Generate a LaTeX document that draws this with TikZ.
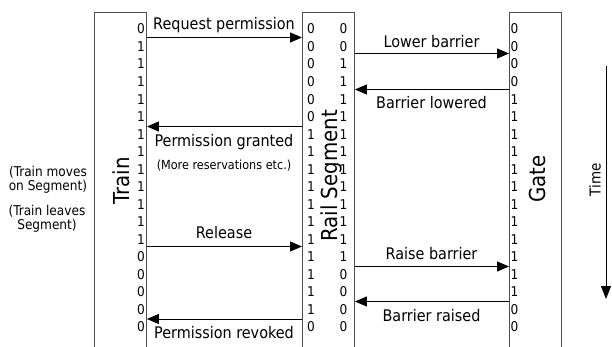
\documentclass[tikz,border=0pt]{standalone}
\usepackage{fontspec}
\setmainfont{DejaVu Sans Condensed}
\usetikzlibrary{arrows.meta}
\tikzset{
  lane/.style={draw=black!70, line width=0.9pt, minimum width=52pt, minimum height=360pt, anchor=north west, inner sep=0pt},
  digit/.style={font=\fontsize{13.5}{14}\selectfont, inner sep=0pt},
  msg/.style={font=\fontsize{16}{17}\selectfont, inner sep=0pt},
  note/.style={font=\fontsize{12.5}{14}\selectfont, inner sep=0pt, align=center},
  side/.style={font=\fontsize{13.5}{14}\selectfont, inner sep=0pt, align=center},
  title/.style={font=\fontsize{22}{24}\selectfont, inner sep=0pt, rotate=90},
  arr/.style={draw=black, line width=0.9pt, -{Triangle[length=12pt,width=10pt]}},
}
\begin{document}
\begin{tikzpicture}[x=1pt,y=-1pt]
\useasboundingbox[fill=white] (0,0) rectangle (612,347);
% lanes
\node[lane] (train) at (94,12) {};
\node[lane] (rail) at (302,12) {};
\node[lane] (gate) at (509,12) {};
% digit columns
\foreach \v [count=\i] in {0,1,1,1,1,1,1,1,1,1,1,1,1,0,0,0,0,0}
  \node[digit, anchor=east] (t\i) at (145, {29+17.53*(\i-1)}) {\v};
\foreach \v [count=\i] in {0,0,0,0,0,0,1,1,1,1,1,1,1,1,1,1,1,0}
  \node[digit] (ra\i) at (311, {29+17.53*(\i-1)}) {\v};
\foreach \v [count=\i] in {0,0,1,1,1,1,1,1,1,1,1,1,1,1,0,0,0,0}
  \node[digit] (rb\i) at (343.5, {29+17.53*(\i-1)}) {\v};
\foreach \v [count=\i] in {0,0,0,0,1,1,1,1,1,1,1,1,1,1,1,1,0,0}
  \node[digit, anchor=west] (g\i) at (510.5, {29+17.53*(\i-1)}) {\v};
% titles
\node[title] (trainlbl) at (121,181) {Train};
\node[title] (raillbl) at (331,176) {Rail Segment};
\node[title] (gatelbl) at (537,179) {Gate};
\node[font=\fontsize{15}{17}\selectfont, inner sep=0pt, rotate=90] (timelbl) at (595,180) {Time};
% arrow y positions
\coordinate (y1) at (0,37.5);
\coordinate (y2) at (0,53.5);
\coordinate (y3) at (0,89.5);
\coordinate (y4) at (0,126.5);
\coordinate (y5) at (0,246.5);
\coordinate (y6) at (0,266.5);
\coordinate (y7) at (0,301.5);
\coordinate (y8) at (0,319);
% messages
\draw[arr] (train.east |- y1) -- (rail.west |- y1);
\node[msg] (m1) at (224,25) {Request permission};
\draw[arr] (rail.east |- y2) -- (gate.west |- y2);
\node[msg] (m2) at (431.5,42) {Lower barrier};
\draw[arr] (gate.west |- y3) -- (rail.east |- y3);
\node[msg] (m3) at (431.5,103) {Barrier lowered};
\draw[arr] (rail.west |- y4) -- (train.east |- y4);
\node[msg] (m4) at (224,142) {Permission granted};
\node[note] (m4b) at (224,165.5) {(More reservations etc.)};
\draw[arr] (train.east |- y5) -- (rail.west |- y5);
\node[msg] (m5) at (224,233) {Release};
\draw[arr] (rail.east |- y6) -- (gate.west |- y6);
\node[msg] (m6) at (431.5,254) {Raise barrier};
\draw[arr] (gate.west |- y7) -- (rail.east |- y7);
\node[msg] (m7) at (431.5,315.5) {Barrier raised};
\draw[arr] (rail.west |- y8) -- (train.east |- y8);
\node[msg] (m8) at (224,333) {Permission revoked};
% side notes
\node[side] (n1) at (48,180) {(Train moves\\on Segment)};
\node[side] (n2) at (47,218.5) {(Train leaves\\Segment)};
% time arrow
\coordinate (ts) at (606,66);
\coordinate (te) at (606,299);
\draw[draw=black, line width=0.9pt, -{Triangle[length=13pt,width=10pt]}] (ts) -- (te);
\end{tikzpicture}
\end{document}
